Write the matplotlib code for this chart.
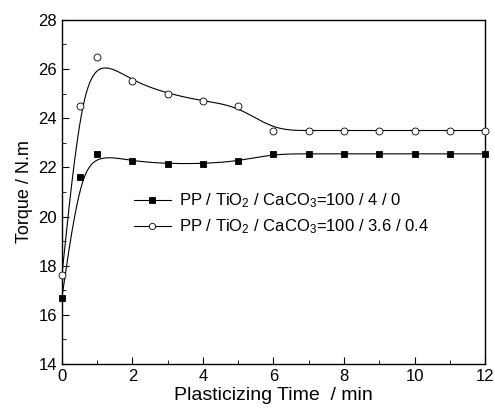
import numpy as np
import matplotlib.pyplot as plt
import matplotlib

matplotlib.rcParams['font.family'] = ['Liberation Sans', 'DejaVu Sans']
matplotlib.rcParams['mathtext.fontset'] = 'custom'
matplotlib.rcParams['mathtext.rm'] = 'Liberation Sans'
matplotlib.rcParams['mathtext.it'] = 'Liberation Sans'

# data
time = [0, 0.5, 1, 2, 3, 4, 5, 6, 7, 8, 9, 10, 11, 12]
torque_0 = [16.7, 21.6, 22.55, 22.25, 22.15, 22.15, 22.25, 22.55,
            22.55, 22.55, 22.55, 22.55, 22.55, 22.55]
torque_04 = [17.6, 24.5, 26.5, 25.5, 25.0, 24.7, 24.5, 23.5,
             23.5, 23.5, 23.5, 23.5, 23.5, 23.5]
labels = ['PP / TiO$_2$ / CaCO$_3$=100 / 4 / 0',
          'PP / TiO$_2$ / CaCO$_3$=100 / 3.6 / 0.4']


def bspline(xs, ys, n=40):
    # uniform cubic B-spline with the data points as control points (clamped ends)
    px = np.r_[[xs[0]] * 2, xs, [xs[-1]] * 2].astype(float)
    py = np.r_[[ys[0]] * 2, ys, [ys[-1]] * 2].astype(float)
    t = np.linspace(0, 1, n)
    b0 = (1 - t) ** 3 / 6
    b1 = (3 * t**3 - 6 * t**2 + 4) / 6
    b2 = (-3 * t**3 + 3 * t**2 + 3 * t + 1) / 6
    b3 = t**3 / 6
    ox, oy = [], []
    for i in range(len(px) - 3):
        ox.append(b0 * px[i] + b1 * px[i+1] + b2 * px[i+2] + b3 * px[i+3])
        oy.append(b0 * py[i] + b1 * py[i+1] + b2 * py[i+2] + b3 * py[i+3])
    return np.concatenate(ox), np.concatenate(oy)


fig = plt.figure(figsize=(4.95, 4.15), dpi=100)
ax = fig.add_axes([0.125, 0.123, 0.855, 0.829])

for ys, marker, face, lab in [(torque_0, 's', 'black', labels[0]),
                              (torque_04, 'o', 'white', labels[1])]:
    sx, sy = bspline(time, ys)
    ax.plot(sx, sy, color='black', lw=0.8, zorder=2)
    ax.plot(time, ys, linestyle='none', marker=marker, ms=4.3 if marker == 's' else 5,
            mfc=face, mec='black', mew=0.6, zorder=3, clip_on=False)
    ax.plot([], [], color='black', lw=0.8, marker=marker, ms=4.3 if marker == 's' else 4.5,
            mfc=face, mec='black', mew=0.6, label=lab)

ax.set_xlim(0, 12)
ax.set_ylim(14, 28)
ax.set_xticks(range(0, 13, 2))
ax.set_xticks(range(0, 13, 1), minor=True)
ax.set_yticks(range(14, 29, 2))
ax.set_yticks(range(14, 29, 1), minor=True)
ax.tick_params(which='both', direction='in', top=False, right=False, labelsize=12)
ax.tick_params(which='major', length=5)
ax.tick_params(which='minor', length=3)
for s in ax.spines.values():
    s.set_linewidth(1.0)

ax.set_xlabel('Plasticizing Time  / min', fontsize=14, labelpad=2)
ax.set_ylabel('Torque / N.m', fontsize=13, labelpad=4)

ax.legend(loc='upper left', bbox_to_anchor=(0.135, 0.545), frameon=False,
          fontsize=12, handlelength=2.2, handletextpad=0.5, labelspacing=0.45)

plt.savefig('out.png', dpi=100)
